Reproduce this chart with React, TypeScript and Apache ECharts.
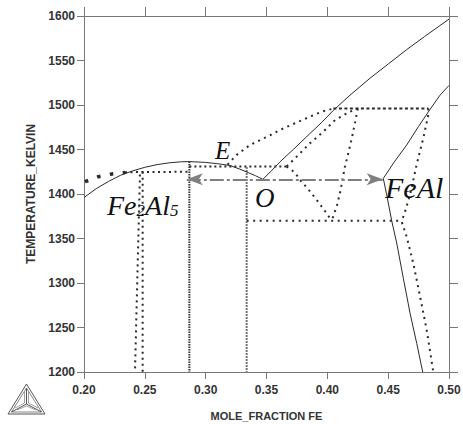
import React, { useEffect, useRef } from "react";
import * as echarts from "echarts";

// ---- data (mole fraction Fe, temperature K) ----
const xTicks = [0.2, 0.25, 0.3, 0.35, 0.4, 0.45, 0.5];
const yTicks = [1200, 1250, 1300, 1350, 1400, 1450, 1500, 1550, 1600];

const liquidusLeft: [number, number][] = [
  [0.2, 1396], [0.21, 1406], [0.22, 1414], [0.23, 1421], [0.24, 1426], [0.25, 1430],
  [0.26, 1433], [0.27, 1435], [0.28, 1436.2], [0.2866, 1436.4], [0.3, 1435.5],
  [0.31, 1434], [0.32, 1432], [0.328, 1428], [0.335, 1424], [0.341, 1420.5], [0.347, 1416.5],
];
const liquidusRight: [number, number][] = [
  [0.347, 1416.5], [0.354, 1426], [0.361, 1436], [0.372, 1450], [0.385, 1467],
  [0.395, 1480], [0.405, 1494], [0.4186, 1511], [0.435, 1530], [0.45, 1546],
  [0.465, 1562], [0.48, 1577], [0.5, 1596.5],
];
const feAlSolid: [number, number][] = [
  [0.5, 1522], [0.4926, 1511], [0.4844, 1495], [0.475, 1476], [0.4652, 1455],
  [0.455, 1436], [0.446, 1417.5], [0.4488, 1399], [0.4529, 1370], [0.457, 1345],
  [0.4625, 1305], [0.468, 1266], [0.4735, 1232], [0.4784, 1200],
];
const feAlDotted: [number, number][] = [
  [0.483, 1496], [0.483, 1489], [0.4789, 1463], [0.4734, 1433], [0.468, 1399],
  [0.4638, 1380], [0.4611, 1369], [0.4652, 1352], [0.4707, 1322], [0.4762, 1285],
  [0.4817, 1247], [0.4871, 1200],
];
const upperDotted: [number, number][] = [
  [0.318, 1433], [0.3213, 1438], [0.3255, 1444], [0.3364, 1455], [0.3529, 1466],
  [0.3611, 1472], [0.3734, 1479.5], [0.3843, 1486], [0.3954, 1492.5], [0.405, 1496],
];
const lowerDotted: [number, number][] = [
  [0.3665, 1431], [0.3734, 1440], [0.3857, 1457], [0.3967, 1470], [0.4063, 1483],
  [0.4186, 1492.5], [0.425, 1496],
];
const vRight: [number, number][] = [
  [0.425, 1496], [0.4229, 1481], [0.42, 1462], [0.4173, 1446], [0.4145, 1431],
  [0.4104, 1401], [0.4077, 1386], [0.4036, 1370],
];
const vLeft: [number, number][] = [
  [0.3665, 1431], [0.3734, 1424], [0.3775, 1416], [0.3857, 1403], [0.3926, 1391],
  [0.3995, 1378], [0.4036, 1370],
];
const h1496: [number, number][] = [[0.405, 1496], [0.483, 1496]];
const h1370: [number, number][] = [[0.3337, 1370], [0.4611, 1370]];
const h1431: [number, number][] = [[0.2866, 1431], [0.3665, 1431]];
const h1425: [number, number][] = [[0.2337, 1424.5], [0.2866, 1425]];
const bigDots: [number, number][] = [[0.2008, 1413.8], [0.2118, 1419.4], [0.2228, 1422.5], [0.2337, 1424.3]];
const vert1: [number, number][] = [[0.2866, 1436.4], [0.2866, 1200]];
const vert2: [number, number][] = [[0.3337, 1430], [0.3337, 1200]];
const vertA: [number, number][] = [[0.246, 1422], [0.2419, 1200]];
const vertB: [number, number][] = [[0.2482, 1425], [0.2482, 1200]];
const arrowFrom: [number, number] = [0.2845, 1416.5];
const arrowTo: [number, number] = [0.4455, 1416.5];

const DARK = "#2a2a2a";
const AXIS = "#777";

function lineSeries(data: [number, number][], style: any, z = 2) {
  return {
    type: "line",
    data,
    showSymbol: false,
    symbol: "none",
    silent: true,
    z,
    lineStyle: { color: DARK, width: 1, ...style },
  };
}

export default function App() {
  const ref = useRef<HTMLDivElement>(null);
  useEffect(() => {
    if (!ref.current) return;
    const chart = echarts.init(ref.current, undefined, { renderer: "svg" });
    const dotted = { width: 2, type: [2, 4.5] };
    const tickLabel = {
      fontFamily: "Liberation Sans, Arial",
      fontWeight: "bold",
      fontSize: 12,
      color: "#333",
    };
    const serif = "Liberation Serif, Times New Roman, serif";
    chart.setOption({
      animation: false,
      backgroundColor: "#fff",
      grid: { left: 84, right: 14, top: 16, bottom: 52, containLabel: false, outerBoundsMode: "none" },
      xAxis: [
        {
          type: "value", min: xTicks[0], max: xTicks[xTicks.length - 1], interval: 0.05,
          position: "bottom",
          name: "MOLE_FRACTION FE", nameLocation: "middle", nameGap: 38,
          nameTextStyle: { ...tickLabel, fontSize: 11 },
          axisLine: { show: true, lineStyle: { color: AXIS, width: 1 } },
          axisTick: { show: true, length: 7, lineStyle: { color: AXIS } },
          axisLabel: { ...tickLabel, margin: 12, formatter: (v: number) => v.toFixed(2) },
          splitLine: { show: false },
        },
        {
          type: "value", min: xTicks[0], max: xTicks[xTicks.length - 1], interval: 0.05,
          position: "top",
          axisLine: { show: true, lineStyle: { color: AXIS, width: 1 } },
          axisTick: { show: true, length: 9, lineStyle: { color: AXIS } },
          axisLabel: { show: false },
          splitLine: { show: false },
        },
      ],
      yAxis: [
        {
          type: "value", min: yTicks[0], max: yTicks[yTicks.length - 1], interval: 50,
          position: "left",
          name: "TEMPERATURE_KELVIN", nameLocation: "middle", nameGap: 43,
          nameTextStyle: { ...tickLabel, fontSize: 12 },
          axisLine: { show: true, lineStyle: { color: AXIS, width: 1 } },
          axisTick: { show: true, length: 7, lineStyle: { color: AXIS } },
          axisLabel: { ...tickLabel, margin: 9, formatter: (v: number) => String(v) },
          splitLine: { show: false },
        },
        {
          type: "value", min: yTicks[0], max: yTicks[yTicks.length - 1], interval: 50,
          position: "right",
          axisLine: { show: true, lineStyle: { color: AXIS, width: 1 } },
          axisTick: { show: true, length: 9, lineStyle: { color: AXIS } },
          axisLabel: { show: false },
          splitLine: { show: false },
        },
      ],
      series: [
        lineSeries(liquidusLeft, { width: 1 }, 3),
        lineSeries(liquidusRight, { width: 1 }, 3),
        lineSeries(feAlSolid, { width: 1 }, 3),
        lineSeries(feAlDotted, dotted),
        lineSeries(upperDotted, dotted),
        lineSeries(lowerDotted, dotted),
        lineSeries(vRight, dotted),
        lineSeries(vLeft, dotted),
        lineSeries(h1496, { width: 2, type: [3, 2.5] }),
        lineSeries(h1370, dotted),
        lineSeries(h1431, { width: 2, type: [2, 3] }),
        lineSeries(h1425, { width: 2, type: [2, 3.5] }),
        lineSeries(bigDots, { width: 3.5, type: [3.5, 9.5] }),
        lineSeries(vert1, { width: 2, type: [1.5, 1], color: "#333" }),
        lineSeries(vert2, { width: 2, type: [1.5, 1.5], color: "#444" }),
        lineSeries(vertA, { width: 2, type: [2, 4] }),
        lineSeries(vertB, { width: 2, type: [2, 4] }),
        {
          type: "line",
          data: [],
          silent: true,
          markLine: {
            silent: true,
            symbol: ["arrow", "arrow"],
            symbolSize: [9, 16],
            label: { show: false },
            lineStyle: { color: "#808080", width: 2, type: [14, 3, 3, 3] },
            itemStyle: { color: "#666" },
            emphasis: { disabled: true },
            data: [[{ coord: arrowFrom }, { coord: arrowTo }]],
          },
          z: 4,
        },
      ],
      graphic: [
        {
          type: "text", x: 215, y: 163, z: 10,
          style: { text: "E", font: `italic 25px ${serif}`, fill: "#111", verticalAlign: "bottom" },
        },
        {
          type: "text", x: 255, y: 211, z: 10,
          style: { text: "O", font: `italic 27px ${serif}`, fill: "#111", verticalAlign: "bottom" },
        },
        {
          type: "text", x: 385, y: 202, z: 10,
          style: { text: "FeAl", font: `italic 30px ${serif}`, fill: "#111", verticalAlign: "bottom" },
        },
        {
          type: "text", x: 107, y: 219, z: 10,
          style: {
            text: "{a|Fe}{b|2}{a|Al}{b|5}",
            verticalAlign: "bottom",
            rich: {
              a: { fontFamily: serif, fontStyle: "italic", fontSize: 28, fill: "#111", color: "#111", verticalAlign: "bottom", lineHeight: 32 },
              b: { fontFamily: serif, fontStyle: "italic", fontSize: 17, fill: "#111", color: "#111", verticalAlign: "bottom", lineHeight: 26 },
            },
          },
        },
        // Thermo-Calc style logo
        {
          type: "group", z: 10,
          children: [
            { type: "polygon", shape: { points: [[26.5, 384], [8, 414], [45, 414]] }, style: { fill: "none", stroke: "#555", lineWidth: 1 } },
            { type: "polygon", shape: { points: [[26.5, 388], [11.5, 412], [41.5, 412]] }, style: { fill: "none", stroke: "#666", lineWidth: 0.8 } },
            { type: "polyline", shape: { points: [[26.5, 388], [26.5, 404], [11.5, 412]] }, style: { fill: "none", stroke: "#555", lineWidth: 1 } },
            { type: "polyline", shape: { points: [[26.5, 404], [41.5, 412]] }, style: { fill: "none", stroke: "#555", lineWidth: 1 } },
            { type: "polyline", shape: { points: [[28.5, 392], [28.5, 403], [38, 408]] }, style: { fill: "none", stroke: "#777", lineWidth: 0.7 } },
            { type: "polyline", shape: { points: [[24.5, 392], [24.5, 403], [15, 408]] }, style: { fill: "none", stroke: "#777", lineWidth: 0.7 } },
            { type: "polyline", shape: { points: [[17, 410], [26.5, 406], [36, 410]] }, style: { fill: "none", stroke: "#777", lineWidth: 0.7 } },
          ],
        },
      ],
    });
    return () => chart.dispose();
  }, []);
  return (
    <div
      ref={ref}
      style={{ position: "absolute", left: 0, top: 0, width: 463, height: 424, background: "#fff" }}
    />
  );
}
